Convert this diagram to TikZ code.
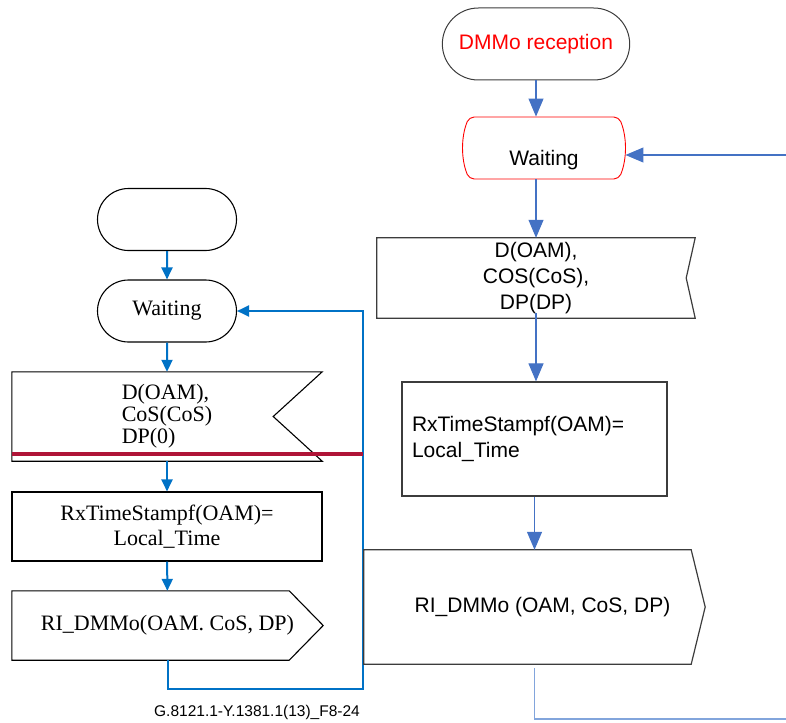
\documentclass[tikz,border=0pt]{standalone}
\usepackage{fontspec}
\setmainfont{Liberation Serif}
\setsansfont{Liberation Sans}
\usetikzlibrary{arrows.meta,shapes.misc,positioning}
\definecolor{sdlBlue}   {RGB}{0,  114, 198}
\definecolor{visioBlue} {RGB}{68, 114, 196}
\definecolor{visioLight}{RGB}{130,165, 220}
\definecolor{cutRed}    {RGB}{175, 20,  55}
\definecolor{pureRed}   {RGB}{255, 0,   0}
\definecolor{edgeGray}  {RGB}{60,  60,  60}

\begin{document}
\begin{tikzpicture}[x=1pt,y=-1pt,
    lfont/.style={font=\fontsize{22}{22}\selectfont},
    rfont/.style={font=\sffamily\fontsize{21}{26}\selectfont},
    lterm/.style={draw,rounded rectangle,line width=1.1pt,lfont,
                  minimum width=139pt,minimum height=62pt,inner sep=0pt},
    lbox/.style={lfont,minimum width=310pt,inner sep=0pt,align=center},
    rbox/.style={rfont,inner sep=0pt,align=center},
    sdlArrow/.style={sdlBlue,line width=2pt,-{Triangle[length=12pt,width=11pt]}},
    visioArrow/.style={visioBlue,line width=1.1pt,-{Triangle[length=18pt,width=15pt]}}]

    \useasboundingbox (0,0) rectangle (786,722);

    % ── LEFT (SDL) ─────────────────────────────────────────
    \node[lterm] (lStart) at (167,219.5) {};
    \node[lterm] (lWait) at (167,311) {Waiting};
    \node[lbox,minimum height=89pt,align=left] (lRecv) at (167,416.5)
      {D(OAM),\\CoS(CoS)\\DP(0)};
    \node[lbox,draw,line width=1.1pt,minimum height=69pt] (lTime) at (167,526.5)
      {RxTimeStampf(OAM)=\\[3pt]Local\_Time};
    \node[lbox,minimum width=311pt,minimum height=69pt] (lSend) at (167.5,625.5)
      {RI\_DMMo(OAM. CoS, DP)};
    \draw[line width=1.1pt] (lRecv.north west) -- (lRecv.north east)
      -- ([xshift=-49pt]lRecv.east) -- (lRecv.south east) -- (lRecv.south west) -- cycle;
    \draw[line width=1.1pt] (lSend.north west) -- ([xshift=-34pt]lSend.north east)
      -- (lSend.east) -- ([xshift=-34pt]lSend.south east) -- (lSend.south west) -- cycle;

    \draw[sdlArrow] (lStart) -- (lWait);
    \draw[sdlArrow] (lWait) -- (lRecv);
    \draw[sdlArrow] (lRecv) -- (lTime);
    \draw[sdlArrow] (lTime) -- (lSend);
    \coordinate (lLoop) at (363,689);
    \draw[sdlArrow] (lSend.south) |- (lLoop) |- (lWait.east);
    % separador
    \draw[cutRed,line width=3.5pt] ([yshift=7pt]lRecv.south west) coordinate (cutL)
      -- (cutL -| lLoop);

    \node[font=\sffamily\fontsize{15.5}{18}\selectfont] (caption) at (257,712)
      {G.8121.1-Y.1381.1(13)\_F8-24};

    % ── RIGHT (Visio) ──────────────────────────────────────
    \node[draw=edgeGray,rounded rectangle,line width=1pt,rfont,text=pureRed,
          minimum width=194pt,minimum height=72pt] (rStart) at (536,44)
      {DMMo reception};
    \node[draw=pureRed,rounded rectangle,rounded rectangle arc length=45,
          rounded corners=5pt,line width=0.9pt,rfont,minimum width=164pt,
          minimum height=62pt,text height=40pt,text depth=5pt] (rWait) at (544,148)
      {Waiting};
    \node[rbox,minimum width=318pt,minimum height=80pt] (rRecv) at (536,278)
      {D(OAM),\\COS(CoS),\\DP(DP)};
    \node[rbox,draw=edgeGray,line width=1.2pt,minimum height=114pt,
          text width=245pt,inner xsep=10pt,align=left] (rTime) at (534.5,439)
      {RxTimeStampf(OAM)=\\Local\_Time};
    \node[rbox,minimum width=341pt,minimum height=114pt] (rSend) at (534.5,607)
      {\hspace*{16pt}RI\_DMMo (OAM, CoS, DP)};
    \draw[edgeGray,line width=1.2pt] (rRecv.north west) -- (rRecv.north east)
      -- ([xshift=-9pt]rRecv.east) -- (rRecv.south east) -- (rRecv.south west) -- cycle;
    \draw[edgeGray,line width=1.2pt] (rSend.north west) -- ([xshift=-14pt]rSend.north east)
      -- (rSend.east) -- ([xshift=-14pt]rSend.south east) -- (rSend.south west) -- cycle;

    \draw[visioArrow] (rStart.south) -- (rStart.south |- rWait.north);
    \coordinate (rIn) at (786,155);
    \draw[visioArrow] (rIn) -- (rIn -| rWait.east);
    \draw[visioArrow] (rRecv |- rWait.south) -- (rRecv.north);
    \draw[visioArrow] ([yshift=5pt]rRecv.south) -- (rRecv.south |- rTime.north);
    \draw[visioArrow] (rTime.south) -- (rTime.south |- rSend.north);
    \coordinate (rOut) at (786,719);
    \draw[visioLight,line width=1.1pt] ([yshift=-4pt]rSend.south) |- (rOut);

  \end{tikzpicture}
\end{document}
